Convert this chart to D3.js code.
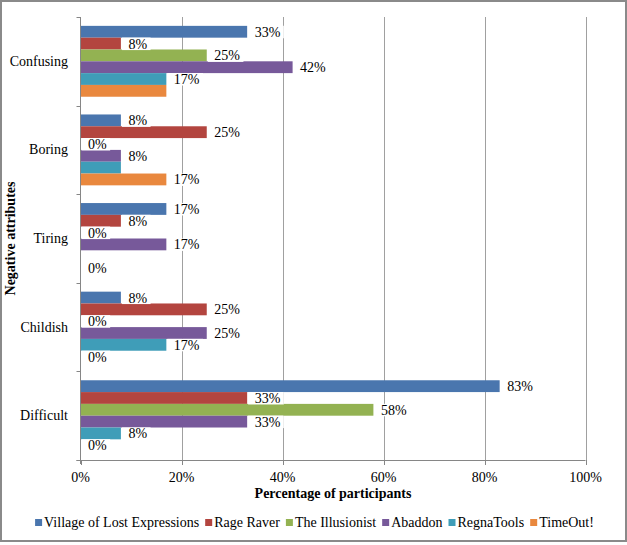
<!DOCTYPE html>
<html><head><meta charset="utf-8">
<script src="https://cdn.jsdelivr.net/npm/d3@7"></script>
<style>body{margin:0;background:#fff}svg{display:block}</style>
</head><body><svg id="c" width="627" height="545" font-family="'Liberation Serif', Tinos, 'Times New Roman', 'DejaVu Serif', serif"></svg>
<script>
const categories = ["Confusing","Boring","Tiring","Childish","Difficult"];
const seriesNames = ["Village of Lost Expressions","Rage Raver","The Illusionist","Abaddon","RegnaTools","TimeOut!"];
const seriesColors = ["#4A76AE","#B3453F","#93B252","#77599A","#3F9DB8","#E9883E"];
// values in % per series, in category order
const villageValues   = [33, 8, 17, 8, 83];
const rageRaverValues = [8, 25, 8, 25, 33];
const illusionistValues = [25, 0, 0, 0, 58];
const abaddonValues   = [42, 8, 17, 25, 33];
const regnaToolsValues = [17, 8, null, 17, 8];
const timeOutValues   = [17, 17, 0, 0, 0];
const xTicks = [0, 20, 40, 60, 80, 100];
// data labels not shown in the reference (category, series)
const hiddenLabels = [["Confusing","TimeOut!"],["Boring","RegnaTools"]];
const seriesValues = [villageValues, rageRaverValues, illusionistValues, abaddonValues, regnaToolsValues, timeOutValues];

(function(){
const svg = d3.select("#c");
const FS = 14;
const pL = 80.5, pR = 585.5, pT = 17, pB = 460;

svg.append("rect").attr("x",1).attr("y",1).attr("width",625).attr("height",540)
  .attr("fill","#fff").attr("stroke","#8a8a8a").attr("stroke-width",2);

const x = d3.scaleLinear().domain([0,100]).range([pL,pR]);
const y = d3.scaleBand().domain(categories).range([pT,pB]).padding(0);
const bw = y.bandwidth();
const inner = d3.scaleBand().domain(seriesNames).range([bw*0.75/7.5, bw - bw*0.75/7.5]).padding(0);

// gridlines
svg.append("g").selectAll("line").data(xTicks.filter(d=>d>0)).join("line")
  .attr("x1",d=>Math.round(x(d))+0.5).attr("x2",d=>Math.round(x(d))+0.5)
  .attr("y1",pT).attr("y2",pB).attr("stroke","#a0a0a0").attr("stroke-width",1);

// bars
const data = [];
categories.forEach((c,ci)=>seriesNames.forEach((s,si)=>{
  const v = seriesValues[si][ci];
  if (v !== null) data.push({c, s, si, v, hide: hiddenLabels.some(h=>h[0]===c && h[1]===s)});
}));
svg.append("g").selectAll("rect").data(data.filter(d=>d.v>0)).join("rect")
  .attr("x",pL).attr("y",d=>y(d.c)+inner(d.s))
  .attr("width",d=>x(d.v)-pL).attr("height",inner.bandwidth())
  .attr("fill",d=>seriesColors[d.si]);

// axes
const ax = svg.append("g").attr("stroke","#868686").attr("stroke-width",1);
ax.append("line").attr("x1",pL).attr("x2",pL).attr("y1",pT).attr("y2",pB+4);
ax.append("line").attr("x1",pL-4).attr("x2",pR).attr("y1",pB+0.5).attr("y2",pB+0.5);
ax.selectAll(".yt").data(d3.range(categories.length+1)).join("line")
  .attr("x1",pL-4).attr("x2",pL).attr("y1",i=>Math.round(pT+i*bw)+0.5).attr("y2",i=>Math.round(pT+i*bw)+0.5);
ax.selectAll(".xt").data(xTicks).join("line")
  .attr("x1",d=>Math.round(x(d))+0.5).attr("x2",d=>Math.round(x(d))+0.5).attr("y1",pB).attr("y2",pB+5);

// value labels: boxes first, then texts
const boxG = svg.append("g"), txtG = svg.append("g");
data.filter(d=>!d.hide).forEach(d=>{
  const cy = y(d.c)+inner(d.s)+inner.bandwidth()/2;
  const t = txtG.append("text").attr("x",x(d.v)+7.5).attr("y",cy+5).attr("font-size",FS).text(d.v+"%");
  const w = t.node().getComputedTextLength();
  boxG.append("rect").attr("fill","#fff").attr("x",x(d.v)+1).attr("y",cy-6).attr("width",w+10).attr("height",12.5);
});

// category labels
svg.append("g").selectAll("text").data(categories).join("text")
  .attr("x",68).attr("y",d=>y(d)+bw/2+4.5).attr("text-anchor","end").attr("font-size",FS).text(d=>d);

// x tick labels
svg.append("g").selectAll("text").data(xTicks).join("text")
  .attr("x",d=>x(d)).attr("y",482).attr("text-anchor","middle").attr("font-size",FS).text(d=>d+"%");

// axis titles
svg.append("text").attr("x",(pL+pR)/2).attr("y",498).attr("text-anchor","middle")
  .attr("font-size",FS).attr("font-weight","bold").text("Percentage of participants");
svg.append("text").attr("transform",`translate(15,${(pT+pB)/2}) rotate(-90)`).attr("text-anchor","middle")
  .attr("font-size",FS).attr("font-weight","bold").text("Negative attributes");

// legend
const leg = svg.append("g");
let cx = 0;
seriesNames.forEach((s,i)=>{
  const g = leg.append("g");
  g.append("rect").attr("x",cx).attr("y",519).attr("width",7).attr("height",7).attr("fill",seriesColors[i]);
  const t = g.append("text").attr("x",cx+9).attr("y",526.5).attr("font-size",FS).text(s);
  cx += 9 + t.node().getComputedTextLength() + 6;
});
const total = cx - 6;
leg.attr("transform",`translate(${314.5-total/2},0)`);
})();
</script></body></html>
